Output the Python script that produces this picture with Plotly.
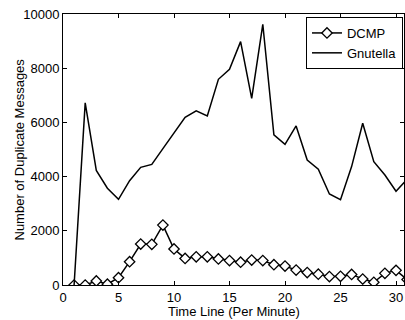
import plotly.graph_objects as go

minutes = list(range(1, 32))
dcmp = [0, 0, 150, 30, 270, 860, 1510, 1500, 2210, 1330, 980, 1040, 1040, 960, 900,
        840, 920, 900, 750, 700, 550, 460, 400, 310, 320, 390, 220, 100, 430, 540, 200]
gnutella = [0, 6720, 4230, 3570, 3160, 3850, 4340, 4450, 5030, 5600, 6190, 6430, 6240,
            7590, 7960, 8980, 6890, 9620, 5540, 5190, 5870, 4610, 4270, 3360, 3150, 4370,
            5970, 4550, 4060, 3460, 3900]

x_ticks = [0, 5, 10, 15, 20, 25, 30]
y_ticks = [0, 2000, 4000, 6000, 8000, 10000]
x_title = "Time Line (Per Minute)"
y_title = "Number of Duplicate Messages"

FONT = dict(family="Liberation Sans, Arial, sans-serif", size=13, color="black")

fig = go.Figure()
fig.add_trace(go.Scatter(
    x=minutes, y=dcmp, name="DCMP", mode="lines+markers",
    line=dict(color="black", width=1.5),
    marker=dict(symbol="diamond", size=8, color="white",
                line=dict(color="black", width=1.3)),
))
fig.add_trace(go.Scatter(
    x=minutes, y=gnutella, name="Gnutella", mode="lines",
    line=dict(color="black", width=1.5),
))

axis_common = dict(
    showline=True, linecolor="black", linewidth=1, mirror="allticks",
    ticks="inside", ticklen=4, tickcolor="black", tickwidth=1,
    showgrid=False, zeroline=False, tickfont=FONT, automargin=False,
)

fig.update_layout(
    width=405, height=320,
    margin=dict(l=63, r=1, t=14, b=35),
    paper_bgcolor="white", plot_bgcolor="white",
    font=FONT,
    showlegend=True,
    legend=dict(
        x=0.997, y=0.989, xanchor="right", yanchor="top",
        bgcolor="white", bordercolor="black", borderwidth=1,
        font=FONT, tracegroupgap=0, itemwidth=30,
    ),
    xaxis=dict(range=[0, 30.72], tickvals=x_ticks, tickformat="d", **axis_common),
    yaxis=dict(range=[0, 10000], tickvals=y_ticks, tickformat="d", **axis_common),
    annotations=[
        dict(text=x_title, xref="paper", yref="paper", x=0.5, y=-0.099,
             xanchor="center", yanchor="middle", showarrow=False, font=FONT),
        dict(text=y_title, xref="paper", yref="paper", x=-0.129, y=0.5,
             xanchor="center", yanchor="middle", textangle=-90,
             showarrow=False, font=FONT),
    ],
)

fig.write_html("out.html",
               config={"displayModeBar": False},
               post_script="document.body.style.margin='0';document.body.style.overflow='hidden';")
